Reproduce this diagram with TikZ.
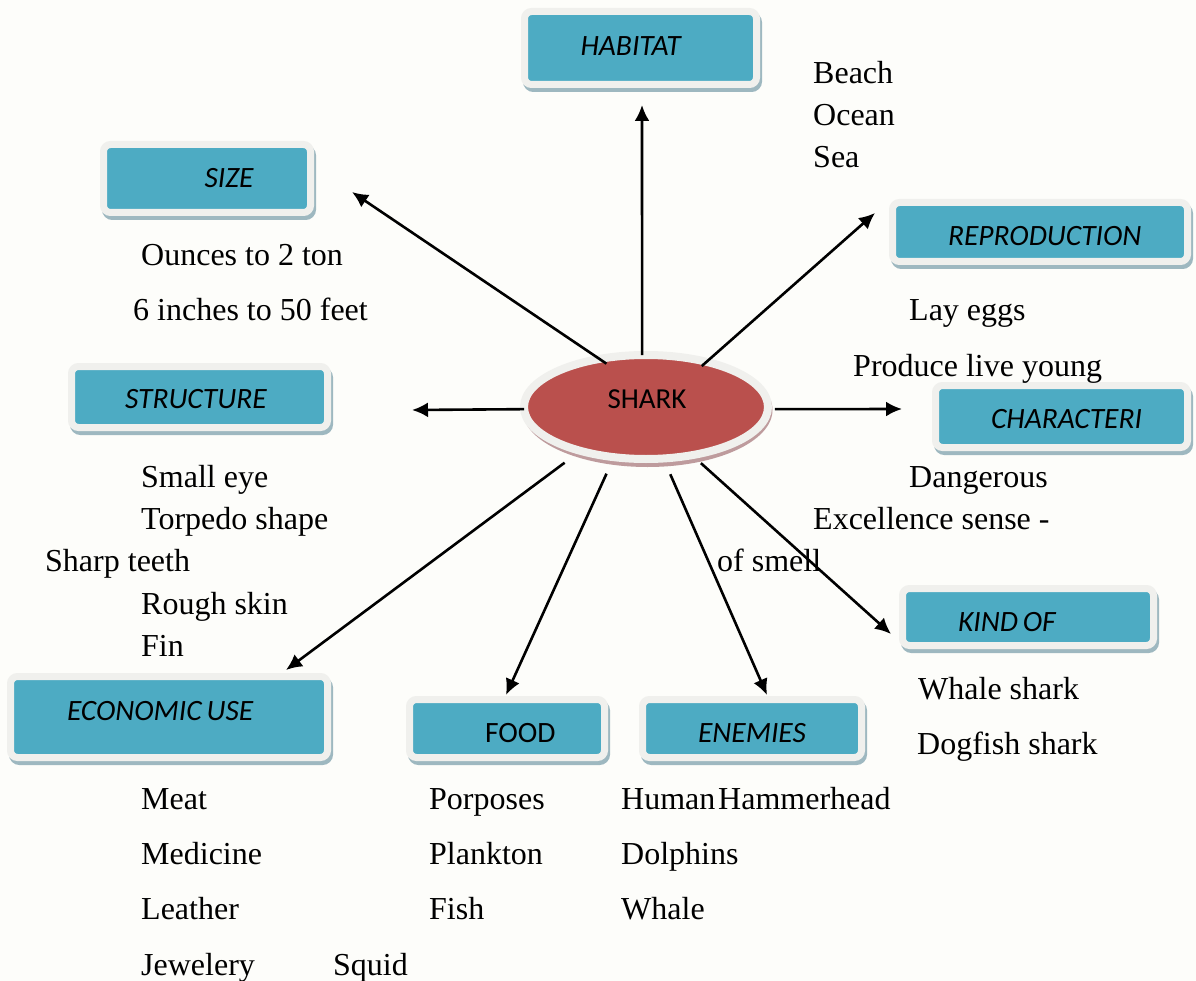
\documentclass[tikz,border=0pt]{standalone}
\usepackage{fontspec}
\setmainfont{Liberation Serif}
\newfontfamily\boxfont{Carlito}
\usetikzlibrary{arrows.meta,positioning,shapes.geometric}
\definecolor{paper}{RGB}{253,253,250}
\definecolor{frame}{RGB}{240,240,237}
\definecolor{teal}{RGB}{77,171,195}
\definecolor{tealshade}{RGB}{158,184,192}
\definecolor{brick}{RGB}{186,80,77}
\definecolor{brickshade}{RGB}{190,155,157}
\tikzset{
  topicbox/.style n args={3}{draw=frame,line width=7pt,fill=teal,rounded corners=7pt,inner sep=0pt,
    preaction={draw=tealshade,line width=7pt,transform canvas={xshift=2pt,yshift=-4pt}},
    text width=#1 pt,minimum height=#2 pt,align=left,font=\boxfont\itshape\fontsize{29.5}{30}\selectfont,
    execute at begin node={\spaceskip=0.17em\hspace*{#3 pt}}},
  itemtext/.style={anchor=base west,inner sep=0pt,font=\fontsize{32}{33}\selectfont}
}
\begin{document}
\begin{tikzpicture}[x=1pt,y=-1pt,>={Latex[length=16pt,width=15pt]}]
\useasboundingbox[fill=paper] (0,0) rectangle (1196,981);
% topic boxes
\foreach \name/\cx/\cy/\bw/\bh/\ind/\up/\txt in {
  habitat/640.5/48/232/73/56/0/HABITAT,
  size/207/178.5/207/68/101/-2/SIZE,
  repro/1040/232/295/59/55.5/-6/REPRODUCTION,
  struct/199.5/397/256/61/53.5/-4/STRUCTURE,
  charac/1061.5/416.5/252/62/55.5/-4.5/CHARACTERI,
  kind/1028/617/251/57/55.5/-7/KIND OF,
  econ/169/717/317/81/56.5/4/ECONOMIC USE,
  food/507/728.5/195/58/75.5/-6.5/\upshape FOOD,
  enemies/752/728.5/219/58/55.5/-6.5/ENEMIES}
  \node[topicbox={\bw}{\bh}{\ind}] (\name) at (\cx,\cy) {\raisebox{\up pt}[1ex][0pt]{\txt}};
% centre
\fill[brickshade] (647.5,410) ellipse (125 and 57);
\node[draw=frame,line width=8pt,fill=brick,ellipse,inner sep=0pt,minimum width=244pt,minimum height=104pt,
  font=\boxfont\fontsize{29}{30}\selectfont] (shark) at (646,407) {\hspace*{2pt}\raisebox{5pt}[1ex][0pt]{SHARK}};
% arrows
\foreach \ang/\ex/\ey/\cut/\lab in {94.4/642/105/-4/a,135.7/352/192/-14/b,37/875/213/-11/c,181.4/412/410/-4/d,359.1/902/409/3/e,
  214/286/670/15/f,238/506/695/14/g,289/767/695/13/h,314/891/634/7/i}{
  \coordinate (end\lab) at (\ex,\ey);
  \draw[->,line width=2.6pt,shorten <=\cut pt] (shark.\ang)--(end\lab);
}
% word lists
\foreach \name/\tx/\ty/\txt in {
  beach/813/84/Beach,ocean/813/126/Ocean,sea/813/168/Sea,
  ounces/141/266/Ounces to 2 ton,inches/133/321/6 inches to 50 feet,
  eggs/909/321/Lay eggs,young/853/376/Produce live young,
  eye/141/487/Small eye,torpedo/141/529/Torpedo shape,teeth/45/571/Sharp teeth,skin/141/614/Rough skin,fin/141/656/Fin,
  dangerous/909/487/Dangerous,sense/813/529/Excellence sense -,smell/717/571/of smell,
  whale/918/699/Whale shark,dogfish/917/754/Dogfish shark,
  meat/141/809/Meat,medicine/141/864/Medicine,leather/141/919/Leather,jewelery/141/975/Jewelery,squid/333/975/Squid,
  porposes/429/809/Porposes,plankton/429/864/Plankton,fish/429/919/Fish,
  human/621/809/Human,hammer/718/809/Hammerhead,dolphins/621/864/Dolphins,whalee/621/919/Whale}
  \node[itemtext] (\name) at (\tx,\ty) {\txt};
\end{tikzpicture}
\end{document}
